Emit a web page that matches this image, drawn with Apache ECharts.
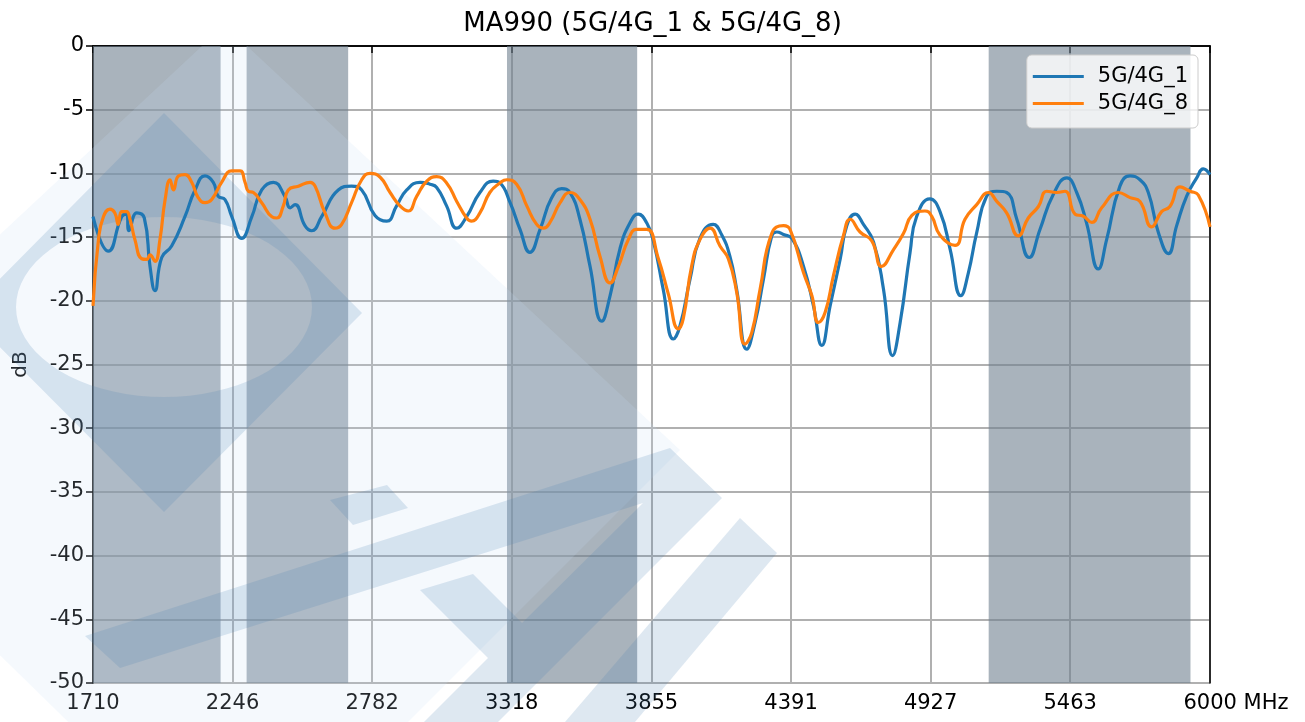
<!DOCTYPE html>
<html>
<head>
<meta charset="utf-8">
<script src="https://cdn.jsdelivr.net/npm/echarts@6/dist/echarts.min.js"></script>
<style>
  html, body { margin: 0; padding: 0; background: #fff; }
  #chart { width: 1305px; height: 722px; }
</style>
</head>
<body>
<div id="chart"></div>
<script>
const xTicks = [1710, 2246, 2782, 3318, 3855, 4391, 4927, 5463, 6000];
const bands = [[1710, 2200], [2300, 2690], [3300, 3800], [5150, 5925]];
const seriesNames = ['5G/4G_1', '5G/4G_8'];

// 5G/4G_1
const freq1 = [1710, 1769, 1820, 1839, 1848, 1878, 1907, 1929, 1948, 1974, 2012, 2063, 2102, 2140, 2172, 2191, 2217, 2243,
  2281, 2320, 2358, 2403, 2447, 2467, 2486, 2524, 2550, 2588, 2652, 2703, 2742, 2793, 2838, 2876, 2915, 2966, 3004, 3030,
  3068, 3107, 3145, 3196, 3247, 3273, 3312, 3350, 3388, 3427, 3472, 3510, 3542, 3580, 3619, 3664, 3696, 3734, 3772, 3804,
  3837, 3862, 3900, 3939, 3964, 4003, 4041, 4092, 4124, 4156, 4182, 4221, 4253, 4285, 4317, 4336, 4362, 4394, 4439, 4477,
  4509, 4541, 4580, 4605, 4637, 4669, 4708, 4746, 4781, 4810, 4848, 4873, 4924, 4963, 5002, 5043, 5072, 5104, 5142, 5181,
  5219, 5258, 5306, 5347, 5398, 5450, 5488, 5526, 5571, 5603, 5654, 5693, 5731, 5763, 5802, 5840, 5872, 5910, 5949, 5974, 6000];
const db1 = [-13.4, -16.1, -13.4, -13.2, -14.5, -13.1, -13.5, -17.3, -19.2, -16.6, -15.7, -13.4, -11.3, -10.2, -10.7, -11.8, -12.05, -13.4,
  -15.1, -13.4, -11.3, -10.7, -11.8, -12.7, -12.45, -14.1, -14.5, -13.4, -11.3, -11.0, -11.3, -13.3, -13.75, -12.55, -11.3, -10.7, -10.85, -11.1,
  -12.55, -14.3, -13.4, -11.5, -10.6, -10.75, -12.3, -14.4, -16.2, -14.4, -11.9, -11.2, -11.5, -13.6, -17.3, -21.6, -19.6, -15.9, -13.9, -13.2,
  -13.9, -15.3, -19.1, -23.0, -22.0, -18.3, -15.1, -14.0, -14.8, -16.5, -19.1, -23.8, -21.7, -18.3, -14.9, -14.6, -14.8, -15.1, -17.3, -20.4,
  -23.5, -20.4, -16.7, -14.1, -13.2, -14.0, -15.4, -19.1, -24.3, -21.7, -16.2, -13.4, -12.0, -13.0, -15.96, -19.6, -17.8, -14.65, -11.8, -11.4,
  -11.5, -13.6, -16.6, -14.4, -11.65, -10.35, -11.5, -13.9, -17.5, -15.2, -11.0, -10.2, -10.5, -11.5, -14.65, -16.3, -14.1, -11.8, -10.35, -9.65, -10.1];

// 5G/4G_8
const freq8 = [1710, 1731, 1750, 1775, 1794, 1807, 1820, 1839, 1852, 1871, 1897, 1916, 1929, 1948, 1967, 1987, 2006, 2019, 2038,
  2063, 2089, 2114, 2140, 2166, 2204, 2243, 2275, 2294, 2307, 2326, 2358, 2397, 2416, 2441, 2460, 2499, 2544, 2563, 2601,
  2639, 2665, 2703, 2742, 2774, 2813, 2851, 2889, 2921, 2953, 2992, 3030, 3068, 3107, 3145, 3164, 3196, 3234, 3273, 3299,
  3337, 3376, 3414, 3440, 3465, 3504, 3542, 3580, 3619, 3657, 3696, 3728, 3766, 3798, 3837, 3880, 3920, 3958, 3977, 4009,
  4041, 4080, 4118, 4150, 4182, 4214, 4240, 4272, 4317, 4362, 4387, 4439, 4471, 4496, 4522, 4554, 4592, 4618, 4656, 4701,
  4739, 4784, 4823, 4855, 4905, 4931, 4963, 5021, 5059, 5104, 5149, 5181, 5219, 5264, 5302, 5341, 5373, 5411, 5443, 5482,
  5514, 5546, 5584, 5648, 5693, 5731, 5776, 5814, 5846, 5885, 5923, 5955, 6000];
const db8 = [-20.4, -15.2, -13.4, -12.8, -13.1, -14.0, -13.0, -13.0, -13.6, -15.2, -16.7, -16.75, -16.4, -16.9, -15.2, -12.05, -10.5, -11.3, -10.2,
  -10.1, -10.7, -11.9, -12.3, -12.05, -10.7, -9.8, -9.8, -10.7, -11.4, -11.5, -12.3, -13.4, -13.5, -12.55, -11.3, -11.0, -10.7, -11.0, -13.1,
  -14.3, -14.0, -12.3, -10.5, -10.0, -10.3, -11.5, -12.55, -12.95, -11.8, -10.6, -10.25, -10.75, -12.2, -13.5, -13.75, -13.1, -11.5, -10.75, -10.5,
  -10.85, -12.55, -14.0, -14.3, -13.85, -12.3, -11.5, -12.05, -13.6, -16.5, -18.6, -17.3, -15.2, -14.4, -14.4, -16.6, -19.5, -22.2, -21.4, -17.3,
  -15.2, -14.3, -15.7, -16.7, -19.3, -23.4, -22.5, -19.1, -14.7, -14.1, -14.4, -17.8, -19.6, -21.7, -20.9, -18.0, -14.9, -13.6, -14.6, -15.3,
  -17.3, -16.0, -14.7, -13.3, -12.95, -13.36, -14.85, -15.65, -13.6, -12.45, -11.5, -12.2, -13.1, -14.9, -13.5, -12.6, -11.4, -11.5, -11.4, -13.2,
  -13.36, -13.85, -12.7, -11.5, -11.9, -12.2, -14.2, -13.0, -12.6, -11.05, -11.4, -11.7, -14.2];

const FONT = 'DejaVu Sans';
const chart = echarts.init(document.getElementById('chart'));

const zip = (xs, ys) => xs.map((x, i) => [x, ys[i]]);

// 背景水印 (近似), 像素坐标
const paleTone = 'rgba(200,222,242,0.18)';
const darkTone = 'rgba(70,130,180,0.18)';

// 菱形外框 + 椭圆孔 (keyhole polygon)
function ringPoints() {
  const pts = [[164, 113], [362, 313], [164, 512], [-34, 313], [164, 113], [164, 217]];
  const cx = 164, cy = 307, rx = 148, ry = 90;
  for (let i = 0; i <= 72; i++) {
    const a = -Math.PI / 2 - (i / 72) * Math.PI * 2;
    pts.push([cx + rx * Math.cos(a), cy + ry * Math.sin(a)]);
  }
  pts.push([164, 113]);
  return pts;
}

const wm = (points, fill) => ({ type: 'polygon', z: 2, silent: true, shape: { points }, style: { fill } });
const watermark = [
  wm([[202, 46], [247, 46], [680, 450], [240, 890], [-220, 440]], paleTone),
  wm(ringPoints(), darkTone),
  wm([[85, 636], [670, 448], [722, 498], [498, 722], [424, 722], [488, 658], [420, 590], [473, 574],
      [522, 623], [643, 503], [120, 668]], darkTone),
  wm([[330, 500], [387, 485], [408, 508], [353, 525]], darkTone),
  wm([[740, 518], [777, 553], [635, 722], [565, 722]], darkTone)
];

const option = {
  animation: false,
  backgroundColor: '#ffffff',
  title: {
    text: 'MA990 (5G/4G_1 & 5G/4G_8)',
    left: 'center',
    top: 6,
    textStyle: { fontFamily: FONT, fontSize: 26, fontWeight: 'normal', color: '#000' }
  },
  legend: {
    data: seriesNames,
    orient: 'vertical',
    right: 107,
    top: 55,
    padding: [11, 10, 14, 6],
    itemWidth: 51,
    itemHeight: 3,
    itemGap: 6,
    icon: 'rect',
    backgroundColor: 'rgba(255,255,255,0.8)',
    borderColor: '#cccccc',
    borderWidth: 1,
    borderRadius: 5,
    textStyle: { fontFamily: FONT, fontSize: 21, color: '#000', padding: [0, 0, 0, 9] }
  },
  grid: { left: 93, right: 95, top: 46, bottom: 39, containLabel: false },
  graphic: { elements: watermark },
  xAxis: [{
    type: 'value',
    min: 1710,
    max: 6000,
    axisLine: { show: true, lineStyle: { color: '#000', width: 1.5 } },
    axisTick: { show: true, customValues: xTicks, length: 7, lineStyle: { color: '#000', width: 1.5 } },
    axisLabel: {
      customValues: xTicks,
      margin: 10,
      fontFamily: FONT,
      fontSize: 21,
      color: '#000',
      // 最后一个刻度附带单位, 数字仍居中于刻度
      formatter: v => (v === 6000 ? '{pad|}6000 MHz' : String(Math.floor(v))),
      rich: { pad: { width: 52 } }
    },
    splitLine: { show: true, lineStyle: { color: '#b0b0b0', width: 2 } }
  }, {
    type: 'value', position: 'top', min: 1710, max: 6000,
    axisLine: { show: true, onZero: false, lineStyle: { color: '#000', width: 1.5 } },
    axisTick: { show: false }, axisLabel: { show: false }, splitLine: { show: false }
  }],
  yAxis: [{
    type: 'value',
    min: -50,
    max: 0,
    interval: 5,
    name: 'dB',
    nameLocation: 'middle',
    nameGap: 62,
    nameTextStyle: { fontFamily: FONT, fontSize: 20, color: '#000' },
    axisLine: { show: true, onZero: false, lineStyle: { color: '#000', width: 1.5 } },
    axisTick: { show: true, length: 7, lineStyle: { color: '#000', width: 1.5 } },
    axisLabel: { margin: 9, fontFamily: FONT, fontSize: 21, color: '#000' },
    splitLine: { show: true, lineStyle: { color: '#b0b0b0', width: 2 } }
  }, {
    type: 'value', position: 'right', min: -50, max: 0,
    axisLine: { show: true, onZero: false, lineStyle: { color: '#000', width: 1.5 } },
    axisTick: { show: false }, axisLabel: { show: false }, splitLine: { show: false }
  }],
  series: [
    {
      name: 'bands',
      type: 'line',
      data: [],
      z: 1,
      silent: true,
      markArea: {
        silent: true,
        itemStyle: { color: 'rgba(112,128,144,0.6)' },
        data: bands.map(b => [{ xAxis: b[0], yAxis: 0 }, { xAxis: b[1], yAxis: -50 }])
      }
    },
    {
      name: seriesNames[0],
      type: 'line',
      z: 3,
      data: zip(freq1, db1),
      smooth: 0.5,
      showSymbol: false,
      lineStyle: { color: '#1f77b4', width: 3.2 },
      itemStyle: { color: '#1f77b4' }
    },
    {
      name: seriesNames[1],
      type: 'line',
      z: 3,
      data: zip(freq8, db8),
      smooth: 0.5,
      showSymbol: false,
      lineStyle: { color: '#ff7f0e', width: 3.2 },
      itemStyle: { color: '#ff7f0e' }
    }
  ]
};

chart.setOption(option);
</script>
</body>
</html>
